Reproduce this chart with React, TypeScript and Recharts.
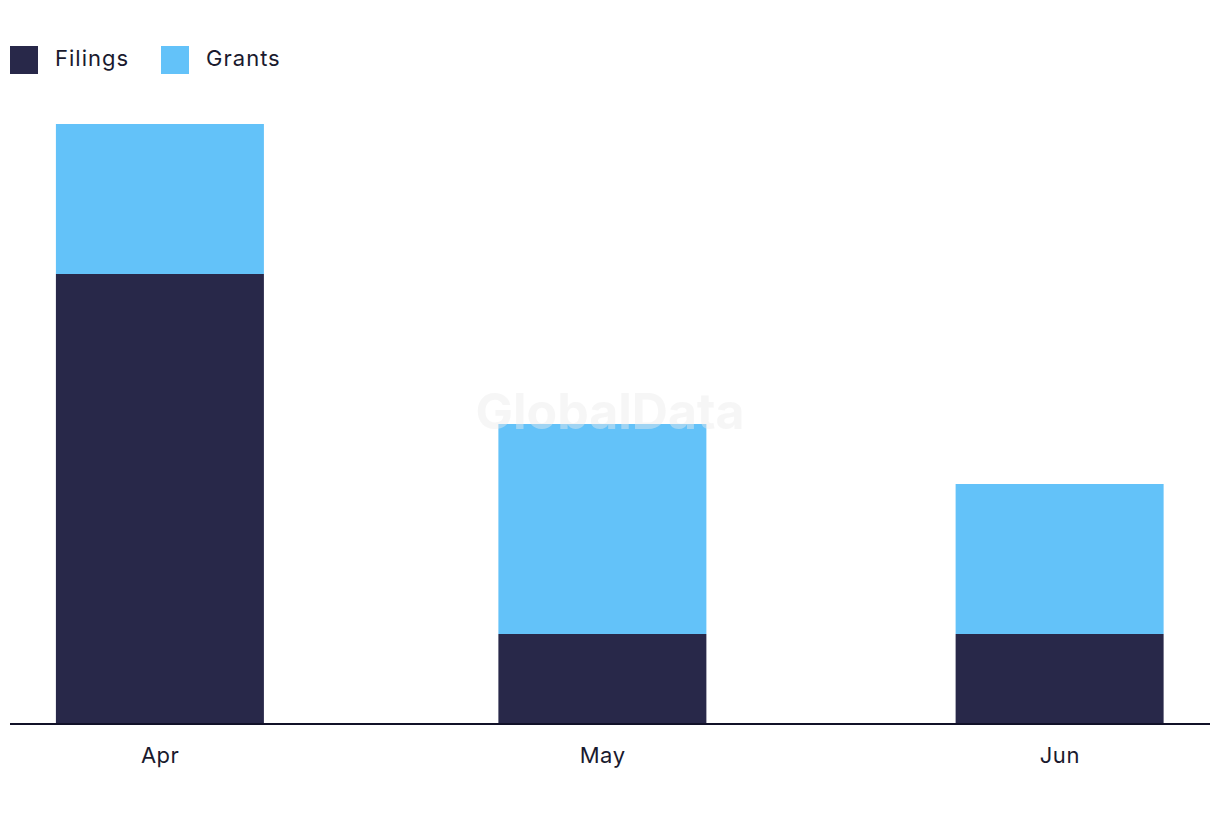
import { BarChart, Bar, XAxis, YAxis } from 'recharts'

const months = ['Apr', 'May', 'Jun']
const monthStarts = ['2023-04-01', '2023-05-01', '2023-06-01']
const filings = [15, 3, 3]
const grants = [5, 7, 5]

const DARK = '#282849'
const BLUE = '#63C2F9'
const FONT = 'Inter, "Noto Sans", sans-serif'
const DAY = 86400000

const times = monthStarts.map(d => Date.parse(d + 'T00:00:00Z'))
const data = months.map((m, i) => ({ month: m, t: times[i]!, filings: filings[i]!, grants: grants[i]! }))
const pad = 10.18 * DAY

export default function App() {
  return (
    <div style={{ position: 'absolute', top: 0, left: 0, width: 1220, height: 822, background: '#fff', fontFamily: FONT }}>
      <div style={{ position: 'absolute', top: 46, left: 10, display: 'flex', alignItems: 'center' }}>
        {[['Filings', DARK], ['Grants', BLUE]].map(([l, c]) => (
          <span key={l} style={{ display: 'flex', alignItems: 'center', marginRight: 32, fontSize: 22, color: '#1a1a2e', letterSpacing: 1 }}>
            <span style={{ width: 28, height: 28, background: c, display: 'inline-block', marginRight: 17 }} />
            <span style={{ position: 'relative', top: -2 }}>{l}</span>
          </span>
        ))}
      </div>
      <BarChart width={1220} height={822} data={data} margin={{ top: 124, right: 10, left: 10, bottom: 0 }}>
        <XAxis
          dataKey="t"
          type="number"
          scale="time"
          domain={[times[0]! - pad, times[2]! + pad]}
          ticks={times}
          tickFormatter={(v: number) => months[times.indexOf(v)] ?? ''}
          height={98}
          tickLine={false}
          tickMargin={17}
          axisLine={{ stroke: '#111128', strokeWidth: 2 }}
          tick={{ fontSize: 22, fill: '#1a1a2e', fontFamily: FONT, letterSpacing: 0.5 }}
        />
        <YAxis hide domain={[0, 20]} />
        <Bar dataKey="filings" stackId="a" fill={DARK} barSize={208} isAnimationActive={false} />
        <Bar dataKey="grants" stackId="a" fill={BLUE} barSize={208} isAnimationActive={false} />
      </BarChart>
      <div style={{ position: 'absolute', left: 470, top: 381, width: 280, textAlign: 'center', fontSize: 50, fontWeight: 700, color: 'rgba(235,235,235,0.45)', letterSpacing: 0, pointerEvents: 'none' }}>
        GlobalData
      </div>
    </div>
  )
}
